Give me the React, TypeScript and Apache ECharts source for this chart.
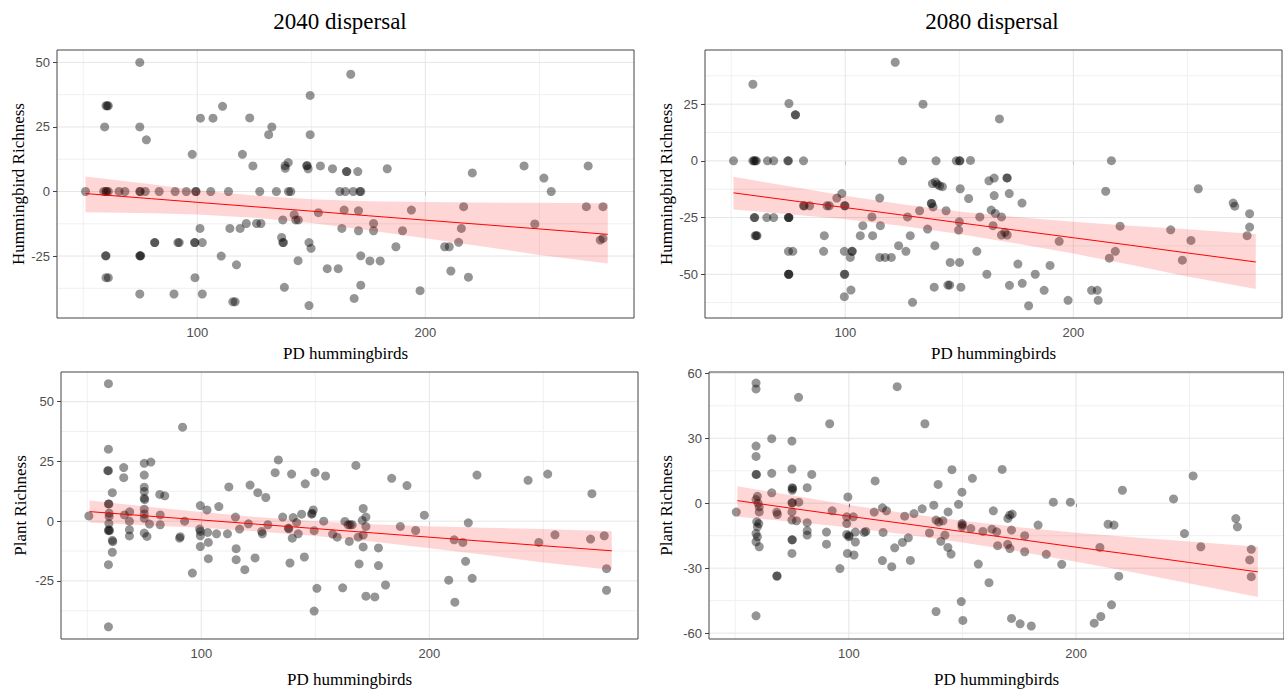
import React, { useEffect, useRef } from "react";
import * as echarts from "echarts";

// ---- data: [PD hummingbirds, richness change] ----
const hum2040: number[][] = [
  [51,0],[60,33.2],[60.5,33.2],[61,33.2],[59.4,25],[59,0],[60,0],[61,0],[60.2,0],[65.7,0],[68.3,0],
  [74.8,0],[75,0],[77.2,0],[83.3,0],[90.3,0],[95.2,0],[99.3,0],[99.5,0],[105.9,0],[113.7,0],[127.4,0],
  [134.7,0],[140,0],[141,0],[74.8,50],[74.8,25],[77.7,20],[59.8,-24.9],[60,-24.9],[60,-33.4],[61,-33.4],
  [74.8,-24.9],[75,-24.9],[75.2,-24.9],[81.3,-19.8],[81.4,-19.8],[91.5,-19.8],[92.1,-19.8],[98.8,-19.8],
  [99,-19.8],[102.2,-19.8],[74.8,-39.7],[89.8,-39.7],[99,-33.4],[102.2,-39.7],[97.8,14.4],[101.4,28.4],
  [106.9,28.4],[111.1,33],[101.2,-14.3],[110.5,-25],[114.3,-14.3],[115.6,-42.7],[116.6,-42.7],[117.2,-28.4],
  [118.8,-14.3],[119.8,14.4],[121.5,-12.4],[123,28.5],[124.4,9.9],[126,-12.4],[127.9,-12.4],[131.3,22],
  [132.7,25],[137.5,-11],[137,-17.8],[137.5,-19.8],[137.8,-19.8],[138.5,10],[138.6,9],[139.9,11.2],
  [138.2,-37.1],[142.5,-9],[143.2,-11],[144.3,-11],[144.2,-26.8],[148,10],[148.2,10],[148.6,8.8],
  [149,-19.8],[149.9,-22],[149,-44.2],[149.5,37.2],[149.5,22],[154,9.9],[153.1,-8.2],[157,-29.9],
  [167.3,45.4],[159.3,8.8],[165.4,7.7],[165.6,7.7],[170.4,7.7],[183.3,8.8],[162.5,0],[164.9,0],[168.4,0],
  [171.3,0],[171.7,0],[164.4,-7.2],[170.7,-7.5],[163.4,-14.3],[170.7,-15.2],[177.3,-12.4],[177.3,-15.2],
  [171.7,-24.9],[175.7,-26.9],[180.2,-26.9],[161.8,-29.9],[171.7,-36.3],[168.8,-41.4],[187.1,-21.4],
  [190,-15.2],[193.9,-7.2],[197.7,-38.4],[208.5,-21.4],[210.5,-21.4],[211.2,-30.8],[214.6,-19.7],
  [215.8,-14.3],[216.8,-5.9],[218.9,-33.2],[220.6,7.2],[243.3,9.9],[248,-12.6],[252,5.2],[255.2,0],
  [271.4,9.9],[270.6,-5.9],[277.9,-5.9],[276.7,-18.8],[277.9,-18.2]
];

const hum2080: number[][] = [
  [51,0],[59.5,33.8],[59.5,0],[60,0],[60.5,0],[61,0],[65.9,0],[68.6,0],[74.8,0],[75.1,0],[81.7,0],
  [75.3,25.3],[78.1,20.3],[78.2,20.3],[60.1,-25],[60.3,-25],[60.5,-33],[61,-33],[61.3,-33],[65.6,-25],
  [68.6,-25],[75.1,-25],[75.2,-25],[75.3,-25],[81.7,-19.8],[82,-19.8],[84.4,-19.8],[75.1,-39.9],[77,-39.9],
  [75.1,-50],[75.2,-50],[75.3,-50],[90.8,-33],[90.5,-39.9],[92,-19.8],[93,-19.8],[96.3,-16.4],[98.5,-14.4],
  [99.7,-19.8],[99.9,-19.8],[99.6,-39.9],[99.6,-50],[99.8,-50],[99.6,-59.9],[102.2,-42.6],[102.9,-39.9],
  [103.1,-39.9],[102.5,-57],[106.6,-33],[107.7,-28.6],[111.7,-24.7],[112,-33],[115.1,-16.4],[115.4,-28.6],
  [115.1,-42.6],[117.5,-42.6],[120.2,-42.6],[121.9,43.5],[123.4,-37.4],[125.1,0],[126.6,-39.9],
  [127.3,-24.7],[128.5,-33],[129.5,-62.4],[132.6,-22],[134.1,25],[136.1,-30.1],[137.7,-18.8],[137.9,-18.8],
  [138.5,-20.3],[138.2,-10],[139.6,-9.3],[140.3,-10.3],[141.4,-11],[142.6,-11.4],[139.8,0],[139.3,-37.4],
  [139,-55.7],[144.2,-22],[145,-54.8],[145.8,-54.8],[146,-44.8],[148.7,0],[150.1,0],[150.3,0],[150,-26.9],
  [149.7,-30.5],[150.4,-12.3],[150.1,-44.8],[150.7,-55.7],[154.1,-16.6],[154.9,0.2],[159,-24.7],
  [157.7,-39.9],[167.6,18.5],[163,-8.8],[165.3,-7.6],[170.9,-7.5],[171,-7.5],[165.3,-15.3],[171.9,-14.4],
  [177.5,-18.6],[164,-21.7],[165.8,-23.2],[168.5,-24.7],[164.8,-28.6],[168.5,-32.7],[171,-32.7],
  [170,-31.5],[175.7,-45.5],[162.1,-50],[172,-54.9],[177.6,-54],[180.4,-63.9],[183.3,-50],[187.2,-57.1],
  [189.8,-46.1],[193.8,-35.5],[197.7,-61.5],[208,-57.1],[210.5,-57.1],[210.9,-61.5],[214.2,-13.4],
  [216.7,0.1],[220.5,-28.8],[215.8,-42.9],[218.4,-39.9],[242.7,-30.4],[247.8,-43.8],[251.6,-35.1],
  [254.8,-12.3],[270.1,-18.6],[270.8,-20],[277.3,-23.3],[277.3,-29.2],[276.2,-33]
];

const plant2040: number[][] = [
  [50.7,2.2],[59.3,57.5],[59.3,30.1],[59,21.1],[59.3,21.1],[59.3,7.2],[59.5,7.2],[61,11.9],[59.6,3.3],
  [59.6,1.9],[59.5,-1],[59.5,-3.6],[59.8,-4],[59.3,-4],[61,-8],[61.2,-8.6],[61,-13],[59.3,-18.2],
  [59.3,-44.2],[66,22.4],[66,18.2],[66.3,2.6],[68.6,3.9],[68.5,0],[68.5,-3.6],[68.5,-6.2],[75,24.2],
  [77.9,24.7],[75,19.3],[75,14.2],[75,12.4],[75,9.6],[75.2,9],[75,5],[75,3],[75,1.2],[75,-5],[76.2,-6.4],
  [77.3,-1.2],[81.8,11.2],[84,10.6],[82,2.6],[82,-1.5],[90.5,-7.1],[90.8,-6.5],[92.7,0],[91.8,39.3],
  [96.1,-21.7],[99.6,6.5],[99.3,-3.3],[99.6,-4.3],[99.6,-6.1],[99.6,-10.6],[102.5,4.7],[102.8,-4.7],
  [103.1,-8.9],[103.1,-15.7],[106.7,-5.3],[107.7,6.1],[111.5,-5.3],[112.1,14.3],[115,1.7],[115.3,-11.5],
  [115.3,-16.1],[116.8,-3.3],[119.1,-20.3],[120.7,-1.1],[121.4,15.1],[123.6,-15.4],[124.8,11.9],
  [126.5,-4.3],[126.8,-5.3],[128.3,9.9],[129.2,-1.5],[132.4,20.3],[133.8,25.6],[135.7,1.7],[138.2,-2.9],
  [138.4,-3.2],[138.9,-17.5],[139.6,19.7],[139.9,-7.1],[140.3,1.5],[141.8,-0.6],[142.5,-5.3],[144,2.9],
  [145.2,-15],[145.6,15.6],[148.4,2.9],[148.6,3.3],[149.1,4.7],[149.9,20.4],[149.5,-4],[150.7,-28.1],
  [149.5,-37.6],[153.7,0],[154.5,18.9],[167.8,23.3],[162,-27.9],[163,-0.1],[164.4,-1.5],[165.3,-1.5],
  [166.2,-1.5],[157.6,-5.4],[159.6,-6.7],[164.9,-8.5],[168.8,-6.7],[171,5.3],[172.2,1.7],[170.6,0.3],
  [172.2,-2.2],[171,-5.8],[171,-10.8],[169.2,-17.9],[172.2,-31.4],[176.1,-31.7],[177.7,-11.2],
  [177.7,-18.6],[180.8,-26.7],[183.5,17.9],[187.3,-2.2],[190.2,14.9],[194,-3.9],[197.8,2.5],[208.5,-24.7],
  [210.9,-7.8],[211.2,-33.9],[214.7,-8.9],[215.9,-16.8],[217.1,-0.7],[218.8,-23.9],[220.9,19.3],
  [243.3,17.1],[248,-8.9],[251.9,19.7],[255.1,-5.7],[270.7,-7.5],[271.3,11.5],[276.7,-6.1],[277.7,-19.9],
  [277.7,-28.9]
];

const plant2080: number[][] = [
  [50.5,-4.1],[59.2,55.5],[59.2,52.8],[59.2,26.4],[59.2,21.6],[59.2,13.3],[59.4,13.3],[59.8,3.2],[59.2,1.7],
  [60.1,0],[60.6,-1.7],[60.6,-4],[59.5,-8.6],[60.4,-9.4],[59.8,-10.9],[59.2,-14],[59.8,-15.5],[59.2,-17.8],
  [60.6,-20.1],[59.2,-52],[66.1,29.8],[66.1,13.8],[66.1,4.8],[68.3,-4.1],[68.6,-5.2],[68.3,-33.6],
  [68.5,-33.6],[75,28.7],[75,15.8],[75.1,7.2],[75.1,6],[75.3,6.8],[75,0.2],[75.2,0.2],[75,-4],[75,-7.8],
  [75,-16.9],[75.2,-16.9],[75,-23.2],[77.9,48.9],[78,0.5],[77,-8.1],[81.7,7.2],[81.7,-9],[81.7,-12.7],
  [81.7,-14.7],[83.7,13.3],[90.2,-13.3],[90.2,-18.9],[91.6,36.7],[92.7,-3.5],[96.1,-30.2],[99.6,2.9],
  [99.1,-6.3],[99.1,-9.4],[99.1,-14.4],[100,-15.5],[100.2,-15],[99.4,-23.2],[102,-6.3],[102.3,-23.9],
  [102.9,-13.3],[102.9,-17.9],[106.8,-13.5],[107.5,-13],[111.6,10.3],[111.2,-4.1],[114.8,-2.1],
  [116.6,-3.5],[115.1,-13.5],[114.8,-26.5],[118.9,-29.3],[120.2,-20.6],[121.3,53.8],[123.6,-18.1],
  [126.2,-16],[124.6,-6],[127.1,-26.4],[128.7,-4.8],[132.3,-2.6],[133.5,36.7],[135.5,-13.7],[137.4,-0.9],
  [138.4,-7.8],[139.6,-8.7],[139.3,8.7],[138.4,-50],[140.5,-17.6],[141.4,-8.1],[142.3,-14.7],[143.6,-20.4],
  [143.7,-4],[145,-23.5],[145.4,15.5],[148.3,-0.5],[149.8,5.1],[149.8,-9.4],[149.8,-10.9],[150,-10],
  [149.5,-45.4],[150.2,-54.1],[153.7,-11.7],[154.4,11.5],[157,-28.1],[161.7,-36.7],[159,-13],[163.6,-3.5],
  [165.1,-13.2],[163,-12],[165.5,-19.6],[167.5,15.6],[169.9,-19],[170,-7],[170.8,-5.5],[171.9,-5],
  [171.6,-12.4],[170.9,-20.9],[171.6,-53.2],[175.4,-55.7],[177.4,-15],[177.4,-22.4],[180.3,-56.7],
  [183.3,-10.1],[186.9,-23.6],[190,0.5],[193.7,-28.2],[197.5,0.5],[208,-55.4],[210.9,-52.3],[210.5,-20.4],
  [214.1,-9.7],[216.7,-10.1],[215.6,-46.9],[218.8,-33.7],[220.4,6],[242.9,2],[247.7,-14],[251.5,12.6],
  [254.9,-20.1],[270.3,-7.1],[271,-10.9],[277.1,-21.3],[276.4,-26.2],[277.1,-33.9]
];

// ---- fitted lines and confidence bands ----
const fitX = [51, 80, 100, 125, 150, 175, 200, 225, 250, 280];
const hum2040Fit = [-0.8, -2.8, -4.2, -5.9, -7.6, -9.4, -11.1, -12.8, -14.5, -16.6];
const hum2040Lo = [-8.0, -8.4, -8.9, -10.2, -12.2, -15.0, -18.1, -21.3, -24.6, -27.9];
const hum2040Hi = [5.8, 2.8, 0.5, -1.6, -3.0, -3.8, -4.1, -4.3, -4.4, -4.6];
const hum2080Fit = [-14.1, -18.0, -20.6, -23.9, -27.3, -30.6, -33.9, -37.2, -40.6, -44.6];
const hum2080Lo = [-21.4, -24.0, -25.8, -28.7, -32.3, -36.4, -40.9, -45.8, -51.0, -56.5];
const hum2080Hi = [-7.0, -12.0, -15.4, -19.1, -22.3, -24.8, -26.9, -28.6, -30.2, -32.3];
const plant2040Fit = [4.0, 1.9, 0.5, -1.3, -3.1, -4.9, -6.7, -8.5, -10.3, -12.4];
const plant2040Lo = [-0.6, -1.9, -2.8, -4.3, -6.2, -8.5, -11.3, -14.2, -17.3, -20.4];
const plant2040Hi = [8.6, 5.7, 3.8, 1.7, 0.0, -1.3, -2.1, -2.8, -3.3, -4.2];
const plant2080Fit = [1.2, -3.1, -6.0, -9.5, -13.1, -16.7, -20.3, -23.8, -27.4, -31.7];
const plant2080Lo = [-6.3, -9.0, -11.2, -14.4, -18.1, -22.3, -27.0, -31.9, -37.1, -43.3];
const plant2080Hi = [7.8, 2.8, -0.8, -4.6, -8.1, -11.1, -13.6, -15.7, -17.7, -20.1];

// ---- axis ticks ----
const xTicks = [100, 200];
const xMinor = [50, 150, 250];
const humY2040Ticks = [-25, 0, 25, 50];
const humY2040Minor = [-37.5, -12.5, 12.5, 37.5];
const humY2080Ticks = [-50, -25, 0, 25];
const humY2080Minor = [-62.5, -37.5, -12.5, 12.5, 37.5];
const plantY2040Ticks = [-25, 0, 25, 50];
const plantY2040Minor = [-37.5, -12.5, 12.5, 37.5];
const plantY2080Ticks = [-60, -30, 0, 30, 60];
const plantY2080Minor = [-45, -15, 15, 45];

const X_MIN = 38.5;
const X_MAX = 291.5;

const panels = [
  { pts: hum2040, fit: hum2040Fit, lo: hum2040Lo, hi: hum2040Hi, yt: humY2040Ticks, ym: humY2040Minor,
    ymin: -49, ymax: 54.8, yname: "Hummingbird Richness", grid: { left: 57, top: 50, width: 577, height: 268 }, nameGapY: 30, nameGapX: 27 },
  { pts: hum2080, fit: hum2080Fit, lo: hum2080Lo, hi: hum2080Hi, yt: humY2080Ticks, ym: humY2080Minor,
    ymin: -69.3, ymax: 48.9, yname: "Hummingbird Richness", grid: { left: 705, top: 50, width: 577, height: 268 }, nameGapY: 30, nameGapX: 27 },
  { pts: plant2040, fit: plant2040Fit, lo: plant2040Lo, hi: plant2040Hi, yt: plantY2040Ticks, ym: plantY2040Minor,
    ymin: -49.3, ymax: 62.4, yname: "Plant Richness", grid: { left: 61, top: 372, width: 577, height: 267 }, nameGapY: 32, nameGapX: 32 },
  { pts: plant2080, fit: plant2080Fit, lo: plant2080Lo, hi: plant2080Hi, yt: plantY2080Ticks, ym: plantY2080Minor,
    ymin: -62.7, ymax: 60.6, yname: "Plant Richness", grid: { left: 709, top: 372, width: 576, height: 267 }, nameGapY: 34, nameGapX: 32 },
];

const SERIF = "'Liberation Serif', 'Times New Roman', serif";
const SANS = "'Liberation Sans', Arial, sans-serif";

export default function App() {
  const ref = useRef<HTMLDivElement>(null);
  useEffect(() => {
    if (!ref.current) return;
    const chart = echarts.init(ref.current, undefined, { renderer: "svg" });
    const grids: any[] = [];
    const xAxes: any[] = [];
    const yAxes: any[] = [];
    const series: any[] = [];
    const major = { color: "#e6e6e6", width: 1, type: "solid" };
    const minor = { color: "#f0f0f0", width: 1, type: "solid" };
    panels.forEach((p, i) => {
      grids.push({ ...p.grid, show: true, borderColor: "#444444", borderWidth: 1, backgroundColor: "transparent", z: 10 });
      xAxes.push({
        type: "value", gridIndex: i, min: X_MIN, max: X_MAX,
        name: "PD hummingbirds", nameLocation: "middle", nameGap: p.nameGapX,
        nameTextStyle: { fontFamily: SERIF, fontSize: 17, color: "#000" },
        axisLine: { show: false },
        splitLine: { show: false },
        axisTick: { show: true, customValues: xTicks, length: 4, lineStyle: { color: "#444" } },
        axisLabel: { customValues: xTicks, color: "#4d4d4d", fontFamily: SANS, fontSize: 13, margin: 8 },
      });
      yAxes.push({
        type: "value", gridIndex: i, min: p.ymin, max: p.ymax,
        name: p.yname, nameLocation: "middle", nameGap: p.nameGapY,
        nameTextStyle: { fontFamily: SERIF, fontSize: 17, color: "#000" },
        axisLine: { show: false },
        splitLine: { show: false },
        axisTick: { show: true, customValues: p.yt, length: 4, lineStyle: { color: "#444" } },
        axisLabel: { customValues: p.yt, color: "#4d4d4d", fontFamily: SANS, fontSize: 13, margin: 7 },
      });
      // grid lines drawn as plain line series, under everything else
      const addLine = (data: number[][], style: any) =>
        series.push({
          type: "line", xAxisIndex: i, yAxisIndex: i, data, z: 0, silent: true,
          symbol: "none", lineStyle: style, clip: true,
        });
      xMinor.forEach((v) => addLine([[v, p.ymin], [v, p.ymax]], minor));
      p.ym.forEach((v) => addLine([[X_MIN, v], [X_MAX, v]], minor));
      xTicks.forEach((v) => addLine([[v, p.ymin], [v, p.ymax]], major));
      p.yt.forEach((v) => addLine([[X_MIN, v], [X_MAX, v]], major));
      series.push({
        type: "scatter", xAxisIndex: i, yAxisIndex: i, data: p.pts, z: 2,
        symbol: "circle", symbolSize: 9,
        itemStyle: { color: "rgba(0,0,0,0.52)" },
      });
      const lo = p.lo, hi = p.hi;
      series.push({
        type: "custom", xAxisIndex: i, yAxisIndex: i, z: 3, silent: true,
        data: fitX.map((x, k) => [x, lo[k], hi[k]]),
        encode: { x: 0, y: [1, 2] },
        renderItem: (params: any, api: any) => {
          if (params.dataIndex !== 0) return null;
          const pts: number[][] = [];
          for (let k = 0; k < fitX.length; k++) pts.push(api.coord([fitX[k], hi[k]]));
          for (let k = fitX.length - 1; k >= 0; k--) pts.push(api.coord([fitX[k], lo[k]]));
          return { type: "polygon", shape: { points: pts }, style: { fill: "rgba(255,0,0,0.16)", stroke: "none" } };
        },
      });
      series.push({
        type: "line", xAxisIndex: i, yAxisIndex: i, z: 4, silent: true,
        data: fitX.map((x, k) => [x, p.fit[k]]),
        symbol: "none", lineStyle: { color: "#ff0000", width: 1 },
      });
    });
    chart.setOption({
      animation: false,
      backgroundColor: "#ffffff",
      grid: grids,
      xAxis: xAxes,
      yAxis: yAxes,
      series,
      graphic: [
        { type: "text", x: 340, y: 21, style: { text: "2040 dispersal", fontFamily: SERIF, fontSize: 23, fill: "#000", align: "center", verticalAlign: "middle" } },
        { type: "text", x: 992, y: 21, style: { text: "2080 dispersal", fontFamily: SERIF, fontSize: 23, fill: "#000", align: "center", verticalAlign: "middle" } },
      ],
    });
    return () => chart.dispose();
  }, []);
  return <div ref={ref} style={{ position: "fixed", left: 0, top: 0, width: 1284, height: 690 }} />;
}
